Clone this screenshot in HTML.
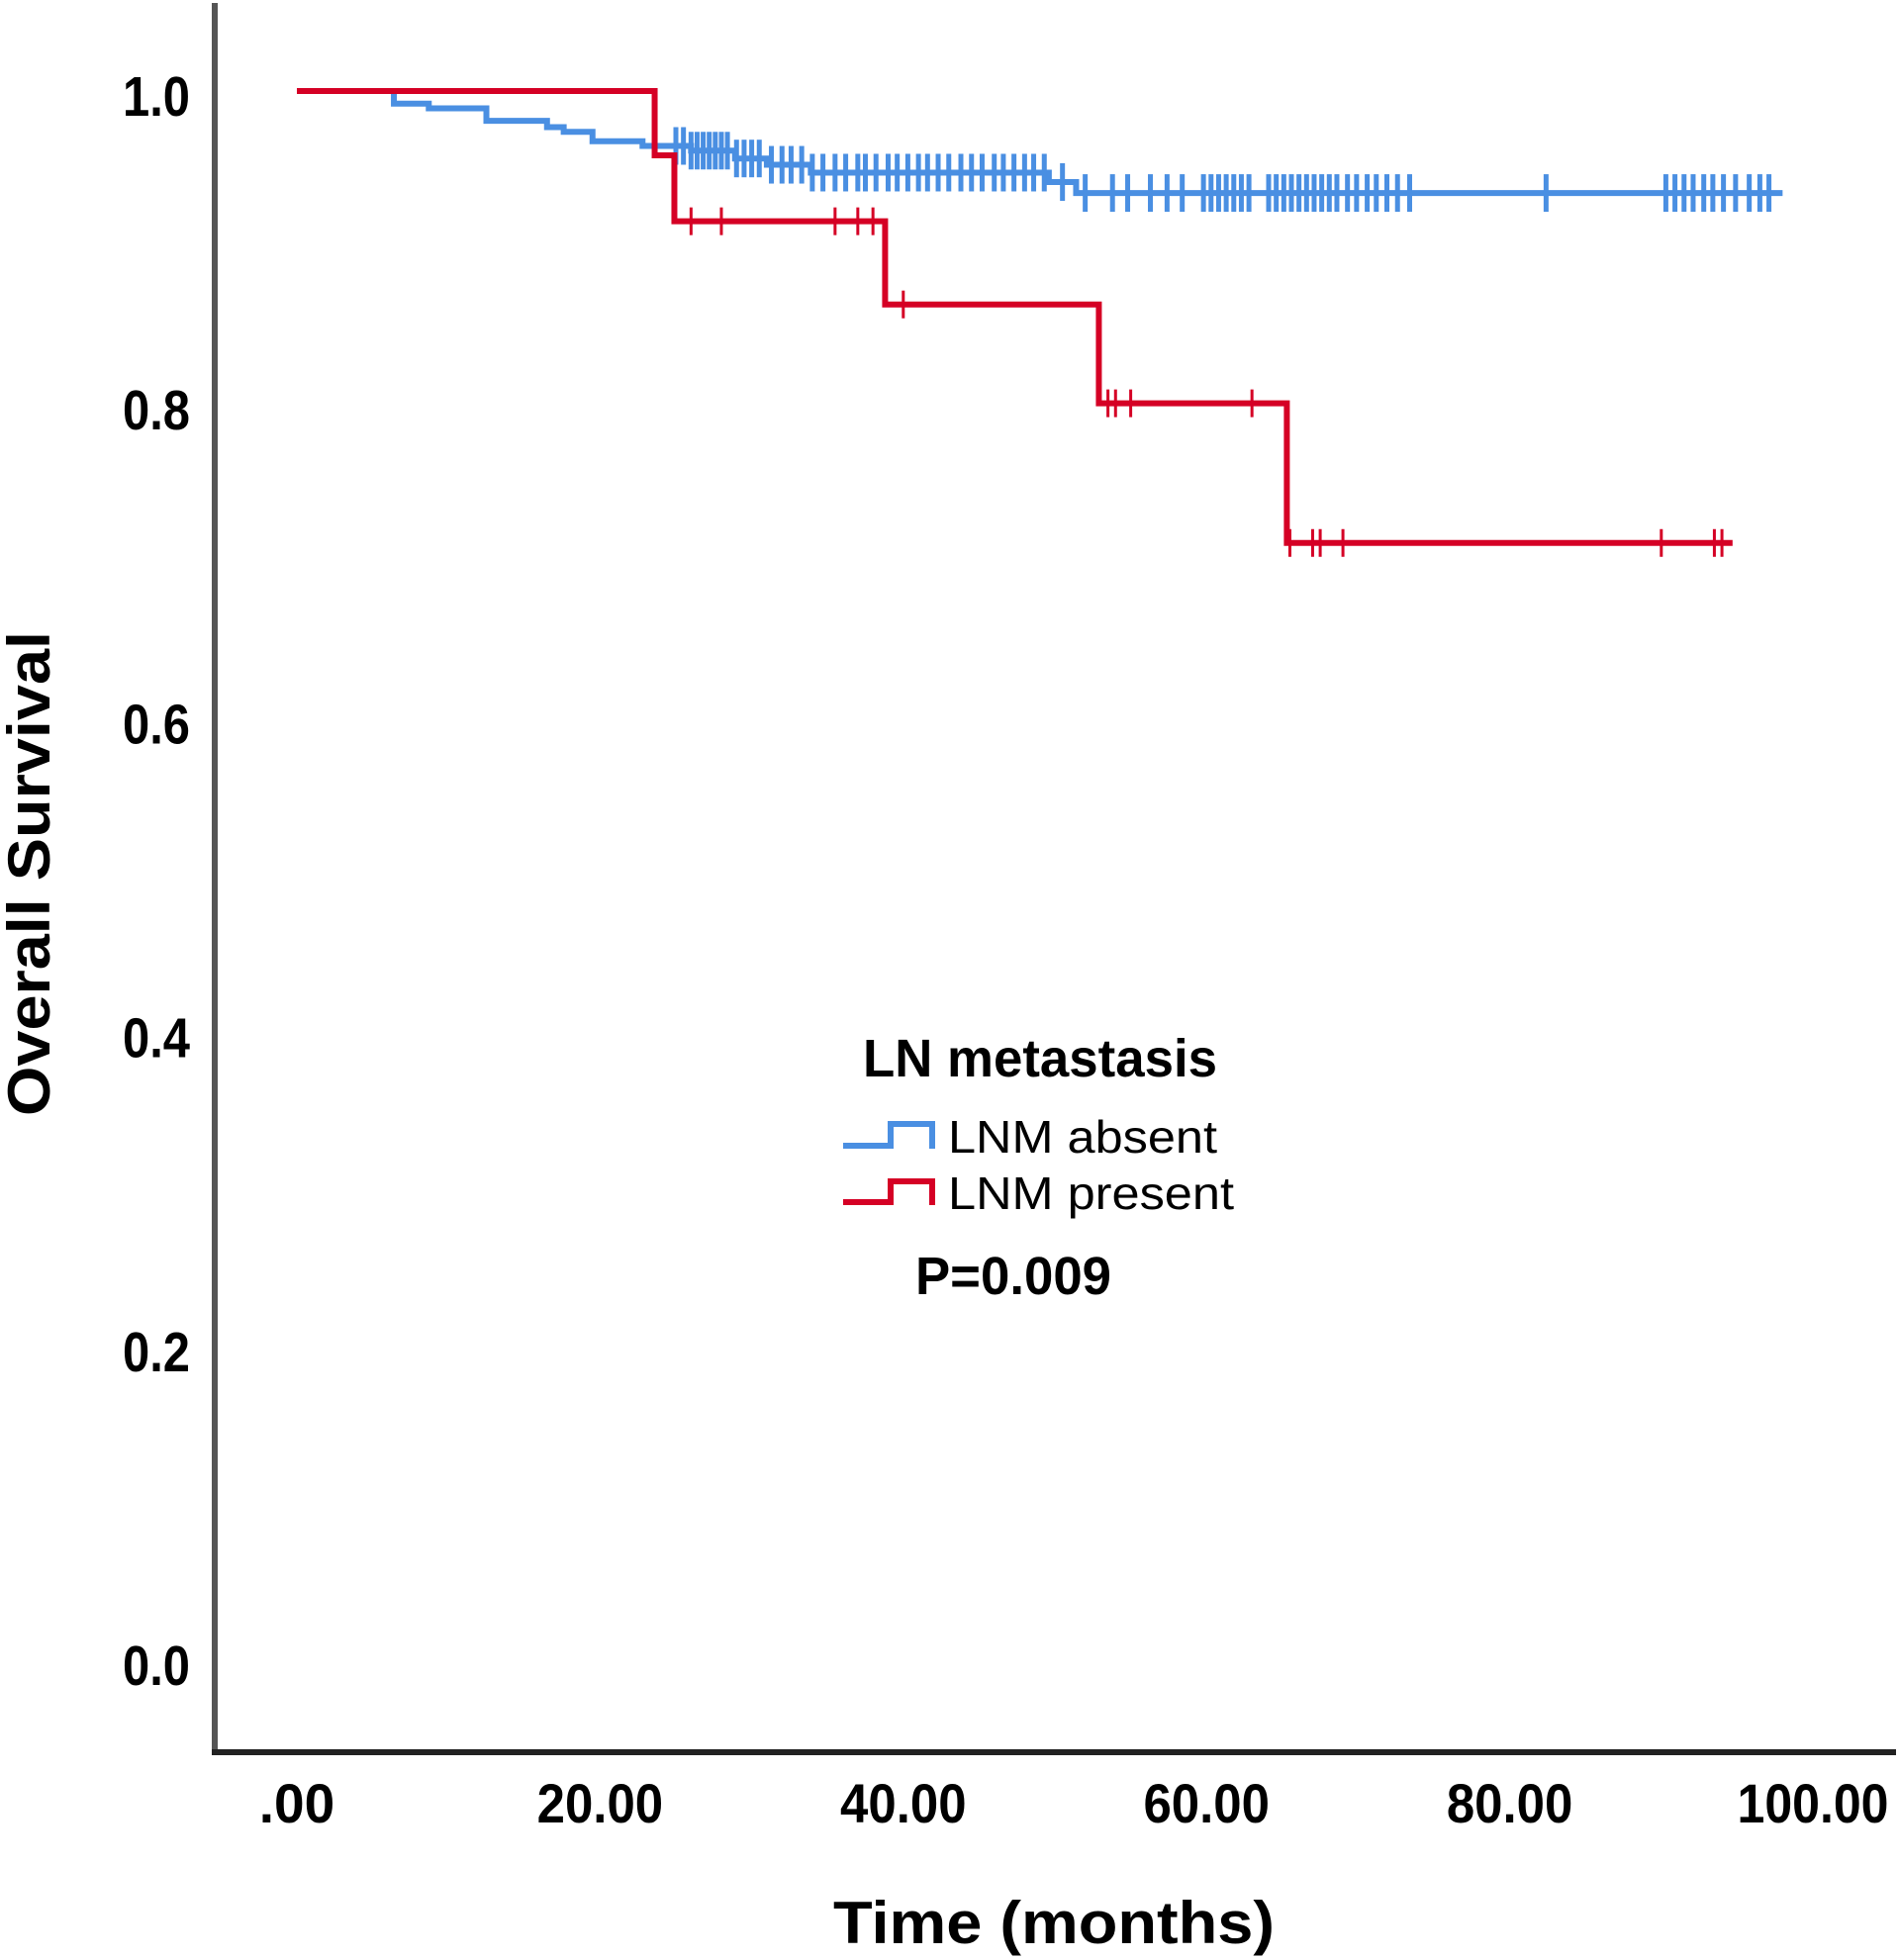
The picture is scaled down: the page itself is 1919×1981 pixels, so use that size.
<!DOCTYPE html>
<html><head><meta charset="utf-8"><style>
html,body{margin:0;padding:0;background:#fff;}
svg{display:block;}
text{font-family:"Liberation Sans",Arial,sans-serif;fill:#000;}
</style></head>
<body>
<svg id="chart" width="1919" height="1981" viewBox="0 0 1919 1981" xmlns="http://www.w3.org/2000/svg">
<g id="axes"></g>
<g id="series"></g>
<text transform="translate(50,883) rotate(-90)" text-anchor="middle" font-size="60" font-weight="bold" textLength="490" lengthAdjust="spacingAndGlyphs">Overall Survival</text>
<text x="842" y="1964" font-size="60" font-weight="bold" textLength="446" lengthAdjust="spacingAndGlyphs">Time (months)</text>
<g>
<text x="872" y="1088" font-size="54" font-weight="bold" textLength="358" lengthAdjust="spacingAndGlyphs">LN metastasis</text>
<path d="M852,1158 H900 V1136 H942 V1161" fill="none" stroke="#4a8fe2" stroke-width="6"/>
<text x="958" y="1165" font-size="46" textLength="272" lengthAdjust="spacingAndGlyphs">LNM absent</text>
<path d="M852,1215 H900 V1194 H942 V1218" fill="none" stroke="#d50025" stroke-width="6"/>
<text x="958" y="1222" font-size="46" textLength="289" lengthAdjust="spacingAndGlyphs">LNM present</text>
<text x="925" y="1308" font-size="54" font-weight="bold" textLength="198" lengthAdjust="spacingAndGlyphs">P=0.009</text>
</g>
</svg>
<script>
const xTicks=[0,20,40,60,80,100];
const xTickLabels=[".00","20.00","40.00","60.00","80.00","100.00"];
const yTicks=[0,0.2,0.4,0.6,0.8,1.0];
const yTickLabels=["0.0","0.2","0.4","0.6","0.8","1.0"];
const absentTimes=[0,6.4,8.7,12.5,16.5,17.6,19.5,22.8,26,28.9,31,33.9,49.6,51.4];
const absentSurv=[1,0.992,0.989,0.981,0.977,0.974,0.968,0.965,0.962,0.957,0.953,0.948,0.942,0.935];
const absentEnd=98;
const absentCensor=[25,25.5,26,26.4,26.8,27.2,27.6,28,28.4,29,29.5,30,30.5,31.3,32,32.6,33.3,34,34.7,35.5,36.2,37,37.5,38.2,39,39.6,40.3,41,41.6,42.3,43,43.8,44.5,45.2,46,46.6,47.3,48,48.6,49.3,50.5,52,53.8,54.8,56.3,57.4,58.4,59.8,60.3,60.8,61.3,61.8,62.3,62.8,64.1,64.6,65.1,65.6,66.1,66.6,67.1,67.6,68.1,68.6,69.3,69.9,70.6,71.2,71.9,72.6,73.4,82.4,90.3,90.9,91.5,92.1,92.8,93.4,94.1,94.9,95.8,96.5,97.1];
const presentTimes=[0,23.6,24.9,38.8,52.9,65.3];
const presentSurv=[1,0.959,0.917,0.864,0.801,0.712];
const presentEnd=94.7;
const presentCensor=[26,28,35.5,37,38,40,53.5,54,55,63,65.5,67,67.5,69,90,93.5,94];

const X=t=>300+t*15.32;
const Y=s=>1678-s*1586;
const NS="http://www.w3.org/2000/svg";
function mk(tag,attrs,parent){const e=document.createElementNS(NS,tag);for(const k in attrs)e.setAttribute(k,attrs[k]);parent.appendChild(e);return e;}
const axes=document.getElementById('axes');
const series=document.getElementById('series');
let a=mk('line',{x1:217,y1:3,x2:217,y2:1771,stroke:'#555',"stroke-width":6},axes);


a=mk('line',{x1:214,y1:1771,x2:1916,y2:1771,stroke:'#222',"stroke-width":6},axes);


xTicks.forEach((v,i)=>{
  const lbl=xTickLabels[i];
  const t=mk('text',{x:X(v),y:1842,"text-anchor":"middle","font-size":56,"font-weight":"bold",textLength:lbl.length*25.5,lengthAdjust:"spacingAndGlyphs"},axes);
  t.textContent=lbl;
  
  
});
yTicks.forEach((v,i)=>{
  const t=mk('text',{x:192,y:Y(v)+25,"text-anchor":"end","font-size":57,"font-weight":"bold",textLength:68,lengthAdjust:"spacingAndGlyphs"},axes);
  t.textContent=yTickLabels[i];
  
  
});
function stepPath(times,surv,end){
  let d='M'+X(times[0])+','+Y(surv[0]);
  for(let i=1;i<times.length;i++){d+=' H'+X(times[i])+' V'+Y(surv[i]);}
  d+=' H'+X(end);return d;
}
function survAt(times,surv,t){let s=surv[0];for(let i=0;i<times.length;i++){if(times[i]<=t)s=surv[i];}return s;}
function drawSeries(times,surv,end,cens,color,w,th,cw,name){
  const g=mk('g',{},series);
  
  
  const p=mk('path',{d:stepPath(times,surv,end),fill:'none',stroke:color,"stroke-width":w},g);
  
  
  cens.forEach(c=>{
    const y=Y(survAt(times,surv,c));
    const l=mk('line',{x1:X(c),x2:X(c),y1:y-th,y2:y+th,stroke:color,"stroke-width":cw},g);
    
    
  });
}
drawSeries(absentTimes,absentSurv,absentEnd,absentCensor,'#4a8fe2',6,19,5,'lnm-absent');
drawSeries(presentTimes,presentSurv,presentEnd,presentCensor,'#d50025',6,14,3,'lnm-present');
</script>
</body></html>
